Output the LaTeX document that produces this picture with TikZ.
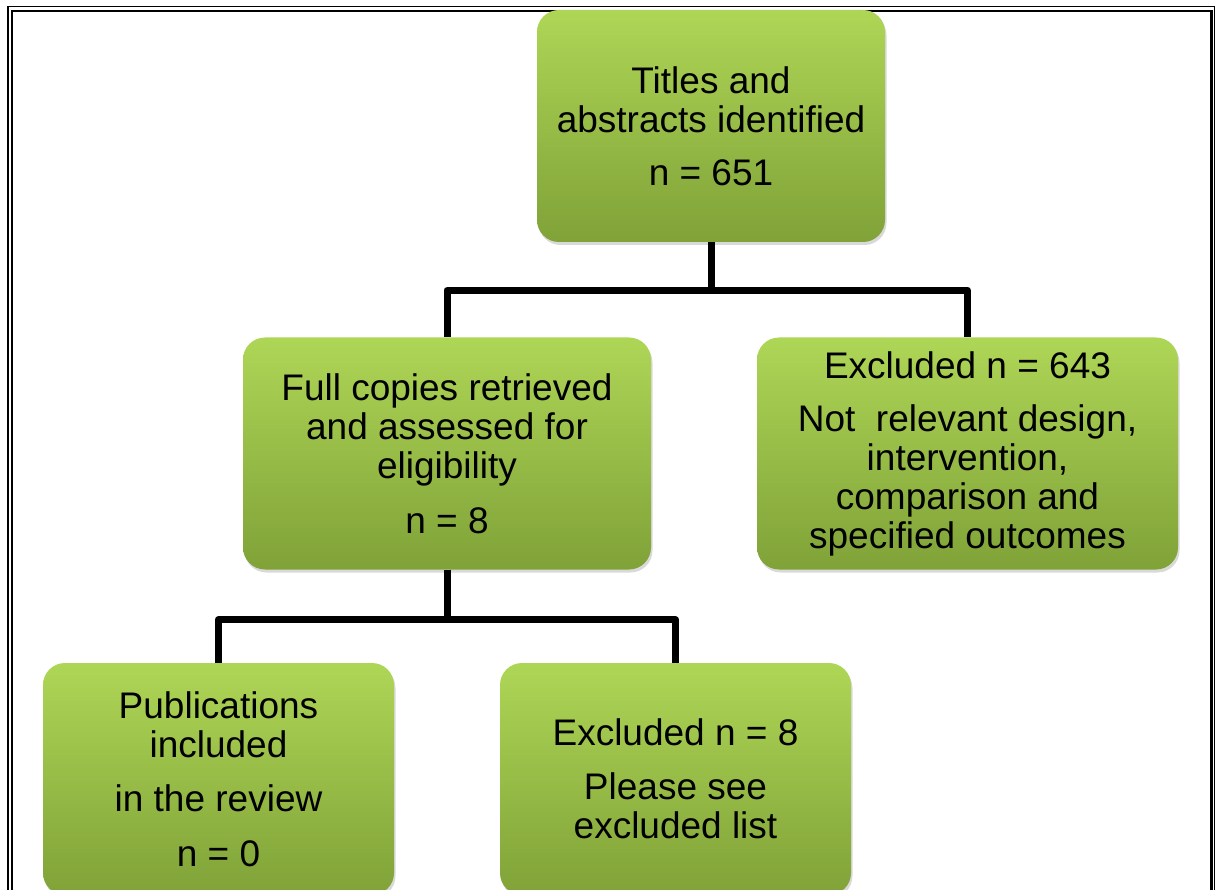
\documentclass[tikz,border=0pt]{standalone}
\usepackage{fontspec}
\setmainfont{Liberation Sans}
\usetikzlibrary{positioning, shadows}
\definecolor{boxtop}{RGB}{174,214,86}
\definecolor{boxbottom}{RGB}{128,162,56}

\begin{document}
\begin{tikzpicture}[
    x=1pt, y=-1pt,
    stepbox/.style={rounded corners=22pt, top color=boxtop, bottom color=boxbottom, align=center, inner sep=0pt, minimum height=232pt, font=\fontsize{37}{39}\selectfont, drop shadow={shadow xshift=1.5pt, shadow yshift=-3pt, opacity=0.3}},
    link/.style={line width=7pt, line join=round, black},
    frameline/.style={black, line width=1.5pt}
]
    \useasboundingbox (0,0) rectangle (1219,890);
    \clip (0,0) rectangle (1219,890);

    % page frame
    \draw[frameline] (8,6.5) rectangle (1214.5,920);
    \draw[frameline, line width=2.6pt] (11.8,11) rectangle (1211.5,920);

    \node[stepbox, minimum width=348pt] (titles) at (711,126) {Titles and\\abstracts identified\\[14pt]n = 651};
    \node[stepbox, minimum width=408pt] (fullcopies) at (447,453.5) {Full copies retrieved\\and assessed for\\eligibility\\[16pt]n = 8};
    \node[stepbox, minimum width=421pt] (excluded) at (967.5,453.5) {Excluded n = 643\\[14pt]Not\ \ relevant design,\\intervention,\\comparison and\\specified outcomes};
    \node[stepbox, minimum width=351pt] (included) at (218.5,779) {Publications\\included\\[15pt]in the review\\[16pt]n = 0};
    \node[stepbox, minimum width=351pt] (excludedlist) at (675.5,779) {Excluded n = 8\\[15pt]Please see\\excluded list};

    \draw[link] (titles.south) -- ++(0,48) coordinate (split1);
    \draw[link] (split1) -| (fullcopies.north);
    \draw[link] (split1) -| (excluded.north);
    \draw[link] (fullcopies.south) -- ++(0,50) coordinate (split2);
    \draw[link] (split2) -| (included.north);
    \draw[link] (split2) -| (excludedlist.north);
\end{tikzpicture}
\end{document}
